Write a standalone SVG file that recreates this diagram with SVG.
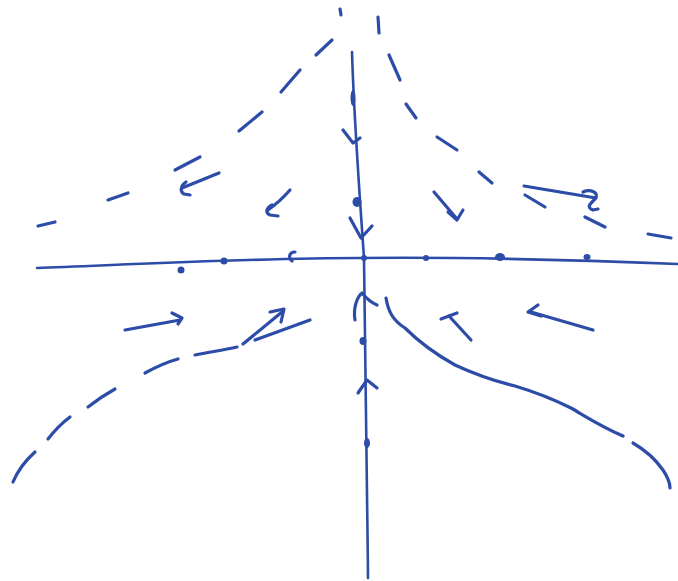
<svg xmlns="http://www.w3.org/2000/svg" width="678" height="581" viewBox="0 0 678 581">
<style>
.s{fill:none;stroke:#2d4ca8;stroke-width:3.2;stroke-linecap:round;stroke-linejoin:round}
.t{fill:none;stroke:#2d4ca8;stroke-width:2.6;stroke-linecap:round;stroke-linejoin:round}
.d{fill:#2d4ca8}
</style>
<rect width="678" height="581" fill="#ffffff"/>
<g id="axes">
<path class="t" d="M37,268 C120,265 250,258 360,258 C470,257 580,260 678,264"/>
<path class="t" d="M352,52 C354,120 360,200 364,258 C366,340 367,460 368,578"/>
</g>
<g id="fixed-points">
<ellipse class="d" cx="181" cy="270" rx="3.5" ry="3.5"/>
<ellipse class="d" cx="224" cy="261" rx="3.5" ry="3.5"/>
<path class="s" d="M295,252 C289,252 288,258 292,261"/>
<ellipse class="d" cx="364" cy="258" rx="3" ry="3"/>
<ellipse class="d" cx="426" cy="258" rx="3" ry="3"/>
<ellipse class="d" cx="500" cy="257" rx="5" ry="4"/>
<ellipse class="d" cx="587" cy="257" rx="3.5" ry="3"/>
<ellipse class="d" cx="353" cy="98" rx="2.5" ry="8"/>
<ellipse class="d" cx="357" cy="202" rx="4.5" ry="5"/>
<ellipse class="d" cx="363" cy="341" rx="3.5" ry="4"/>
<ellipse class="d" cx="367" cy="443" rx="3" ry="5"/>
</g>
<g id="axis-arrows">
<path class="s" d="M343,130 L353,143 L360,138"/>
<path class="s" d="M350,218 L361,238 L372,226"/>
<path class="s" d="M355,320 C353,308 357,297 362,293 C366,298 370,302 377,305"/>
<path class="s" d="M358,393 L367,380 L377,388"/>
</g>
<g id="separatrices">
<g class="s">
<path d="M38,226 L55,222"/>
<path d="M108,200 L128,193"/>
<path d="M175,170 L200,157"/>
<path d="M239,131 L262,112"/>
<path d="M281,92 L300,70"/>
<path d="M316,55 L332,40"/>
<path d="M340,9 L341,15"/>
<path d="M378,17 L379,33"/>
<path d="M389,55 L400,80"/>
<path d="M406,104 L416,118"/>
<path d="M437,137 L457,150"/>
<path d="M479,172 L492,183"/>
<path d="M525,195 L545,207"/>
<path d="M585,217 L605,227"/>
<path d="M648,234 L671,238"/>
<path d="M13,482 C18,470 26,460 35,452"/>
<path d="M48,439 C55,430 62,423 70,417"/>
<path d="M88,407 C97,400 106,394 115,389"/>
<path d="M145,373 C156,367 167,362 178,359"/>
<path d="M195,355 C210,352 223,350 237,347"/>
<path d="M386,298 C388,310 392,320 405,328 C415,338 428,350 455,365 C470,372 490,380 515,386 C535,392 555,400 571,408 C585,416 600,426 623,436"/>
<path d="M633,443 C645,450 656,460 663,470 C667,476 670,482 670,488"/>
</g>
</g>
<g id="flow-arrows">
<g class="s">
<path d="M219,173 L182,188"/>
<path d="M186,182 C180,186 180,192 184,194 L190,195"/>
<path d="M290,190 C283,198 275,205 268,210"/>
<path d="M272,205 C266,208 265,213 270,215 L278,216"/>
<path d="M524,186 L596,198"/>
<path d="M583,192 C590,189 600,192 595,199 C590,204 586,207 593,210 L598,209"/>
<path d="M434,192 L457,219"/>
<path d="M448,212 L457,220 L463,210"/>
<path d="M125,330 L180,320"/>
<path d="M172,313 L182,318 L178,324"/>
<path d="M243,344 L282,312"/>
<path d="M270,312 L284,309 L281,322"/>
<path d="M255,340 L310,320"/>
<path d="M471,340 L449,316"/>
<path d="M441,319 L457,313"/>
<path d="M593,330 L531,312"/>
<path d="M538,305 L528,312 L541,316"/>
</g>
</g>
</svg>
